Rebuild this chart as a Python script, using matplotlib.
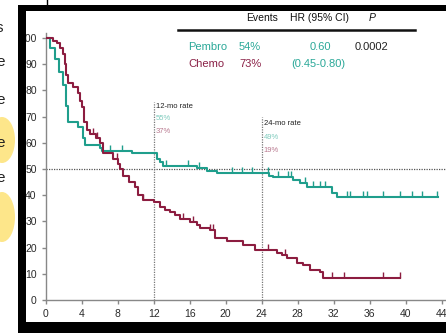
import numpy as np
import matplotlib
matplotlib.use("Agg")
import matplotlib.pyplot as plt
from matplotlib.patches import Rectangle, Ellipse
from matplotlib.lines import Line2D

plt.rcParams['font.family'] = ['Liberation Sans', 'DejaVu Sans']

# Kaplan-Meier step points (months, % surviving)
pembro_t = [0, 0.5, 1.0, 1.5, 1.9, 2.2, 2.5, 3.6, 4.1, 4.4, 6.0, 6.3, 9.6, 12.4, 12.7,
            13.0, 16.8, 17.9, 19.0, 24.8, 25.2, 27.5, 28.3, 29.0, 31.8, 32.4, 43.6]
pembro_s = [100, 96, 92, 87, 82, 74, 68, 66, 62, 59, 58, 57, 56, 54, 52.5,
            51, 50.4, 49.2, 48.5, 47.5, 47, 45.8, 44.6, 43.2, 41, 39.4, 39.4]
chemo_t = [0, 0.8, 1.2, 1.6, 1.9, 2.1, 2.3, 2.5, 3.0, 3.6, 3.8, 4.0, 4.2, 4.6, 4.9, 5.6,
           6.0, 6.4, 7.5, 8.0, 8.3, 8.6, 9.2, 9.9, 10.3, 10.8, 12.0, 12.7, 13.3, 13.8,
           14.4, 14.9, 16.0, 16.8, 17.1, 18.3, 18.8, 20.1, 21.9, 23.2, 25.7, 26.3,
           26.8, 27.9, 28.6, 29.4, 30.5, 30.8, 39.4]
chemo_s = [100, 99, 98, 96, 94, 90, 86, 83, 81.3, 79, 76, 73.7, 68, 65, 63.5, 62,
           60, 56, 54, 52, 50, 47.5, 45, 43, 40, 38.2, 37.4, 35.5, 34.5, 33.6,
           32.5, 31, 29.8, 28.6, 27.5, 26.7, 23.5, 22.5, 21, 19, 18, 17,
           16, 14, 13.4, 11.5, 10.7, 8.4, 8.4]

# censored observations
pembro_cens = [7.1, 8.5, 13.4, 15.8, 17.0, 20.7, 21.8, 22.9, 24.7, 25.8, 26.9, 27.2,
               28.8, 29.7, 30.5, 31.0, 33.5, 33.8, 35.2, 35.7, 37.5, 39.4, 40.7, 41.8, 43.5]
chemo_cens = [5.3, 5.7, 7.9, 10.8, 15.2, 16.4, 18.3, 18.6, 24.7, 26.6, 31.8, 33.1, 37.5, 39.4]

xticks = list(range(0, 45, 4))
yticks = list(range(0, 101, 10))

teal = '#1f9e8c'
maroon = '#8c1d40'

W, H = 446, 333
fig = plt.figure(figsize=(W / 100, H / 100), dpi=100)
ax = fig.add_axes([45.7 / W, (H - 300) / H, 400.5 / W, 102 * 2.62 / H])


def surv_at(t, ts, ss):
    i = np.searchsorted(ts, t, side='right') - 1
    return np.array(ss)[i]


ax.step(pembro_t, pembro_s, where='post', color=teal, lw=1.5, zorder=3)
ax.step(chemo_t, chemo_s, where='post', color=maroon, lw=1.5, zorder=3)
ax.plot(pembro_cens, surv_at(pembro_cens, pembro_t, pembro_s), ls='none',
        marker=2, ms=4, mew=1, color=teal, zorder=3)
ax.plot(chemo_cens, surv_at(chemo_cens, chemo_t, chemo_s), ls='none',
        marker=2, ms=4, mew=1, color=maroon, zorder=3)

# reference lines
ax.plot([0, 44.5], [50, 50], ls=(0, (1, 1)), color='#555555', lw=0.9, zorder=2)
ax.plot([12, 12], [0, 75.6], ls=(0, (1, 1)), color='#777777', lw=0.9, zorder=2)
ax.plot([24, 24], [0, 70], ls=(0, (1, 1)), color='#777777', lw=0.9, zorder=2)

ax.text(12.25, 73.7, '12-mo rate', fontsize=5.5, color='#222222', va='center')
ax.text(12.25, 69.3, '55%', fontsize=5.5, color='#7fcbbd', va='center')
ax.text(12.25, 64.4, '37%', fontsize=5.5, color='#b97a90', va='center')
ax.text(24.25, 67.2, '24-mo rate', fontsize=5.5, color='#222222', va='center')
ax.text(24.25, 62.2, '49%', fontsize=5.5, color='#7fcbbd', va='center')
ax.text(24.25, 56.9, '19%', fontsize=5.5, color='#b97a90', va='center')

ax.set_xlim(0, 44.5)
ax.set_ylim(0, 102)
ax.set_xticks(xticks)
ax.set_yticks(yticks)
for s in ['top', 'right']:
    ax.spines[s].set_visible(False)
for s in ['left', 'bottom']:
    ax.spines[s].set_color('#888888')
    ax.spines[s].set_linewidth(1)
ax.tick_params(colors='#888888', labelcolor='#2a2a2a', labelsize=7.5, length=3, width=1)
ax.patch.set_alpha(0)

# legend table
fx = lambda px: px / W
fy = lambda py: 1 - py / H
hdr = dict(fontsize=7.5, va='center', color='#111111')
fig.text(fx(262), fy(18), 'Events', ha='center', **hdr)
fig.text(fx(319), fy(18), 'HR (95% CI)', ha='center', **hdr)
fig.text(fx(372), fy(18), 'P', ha='center', style='italic', **hdr)
fig.add_artist(Line2D([fx(178), fx(415)], [fy(30), fy(30)], color='#111111', lw=1.8))
fig.text(fx(188), fy(47), 'Pembro', fontsize=8, va='center', color='#2aa898')
fig.text(fx(239), fy(47), '54%', fontsize=8, va='center', color='#2aa898')
fig.text(fx(320), fy(47), '0.60', fontsize=8, ha='center', va='center', color='#2aa898')
fig.text(fx(355), fy(47), '0.0002', fontsize=8, va='center', color='#222222')
fig.text(fx(188), fy(64), 'Chemo', fontsize=8, va='center', color='#8a2046')
fig.text(fx(239), fy(64), '73%', fontsize=8, va='center', color='#8a2046')
fig.text(fx(318), fy(64), '(0.45-0.80)', fontsize=8, ha='center', va='center', color='#2aa898')

# black slide frame
for x0, y0, w, h in [(18, 5, 428, 6), (18, 5, 8, 328), (18, 322, 428, 11)]:
    fig.add_artist(Rectangle((fx(x0), fy(y0 + h)), w / W, h / H, transform=fig.transFigure,
                             facecolor='black', edgecolor='none', zorder=5))
fig.add_artist(Line2D([fx(47), fx(47)], [fy(0), fy(5)], color='black', lw=1))

# cropped slide text on the left
for cy, ch, hh in [(140, 26, 46), (217, 26, 50)]:
    fig.add_artist(Ellipse((fx(2), fy(cy)), ch / W, hh / H, transform=fig.transFigure,
                           facecolor='#fde68a', edgecolor='none', zorder=1))
for py, c in [(28, 's'), (62, 'e'), (100, 'e'), (143, 'e'), (178, 'e'), (215, ':'),
              (250, 'l'), (290, 'l')]:
    fig.text(fx(-4), fy(py), c, fontsize=11, va='center', color='#222222')

fig.savefig('out.png', dpi=100)
